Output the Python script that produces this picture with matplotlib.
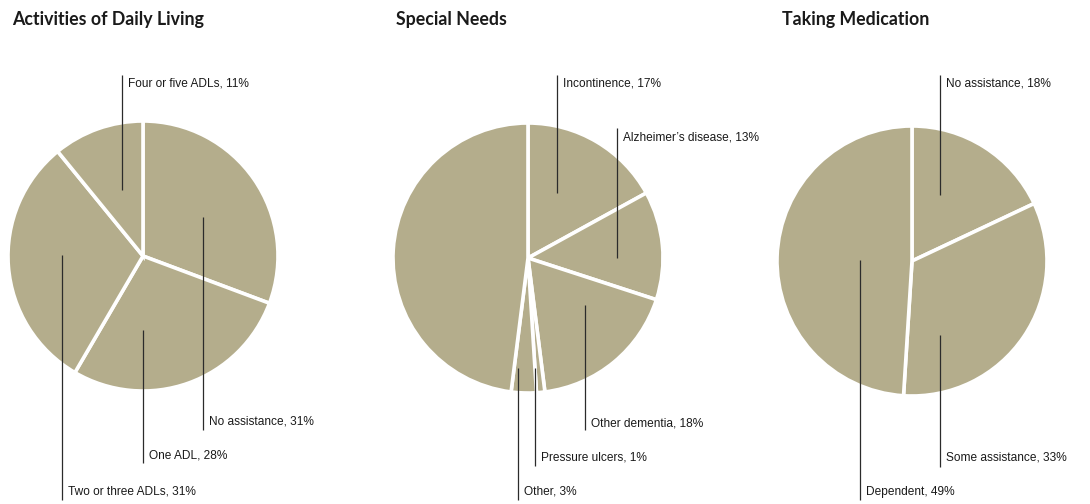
import matplotlib
matplotlib.use("Agg")
import matplotlib.pyplot as plt
from matplotlib import font_manager

# ---------------- data ----------------
adl_labels = ["No assistance", "One ADL", "Two or three ADLs", "Four or five ADLs"]
adl_values = [31, 28, 31, 11]

sn_labels = ["Incontinence", "Alzheimer\u2019s disease", "Other dementia",
             "Pressure ulcers", "Other", ""]
sn_values = [17, 13, 18, 1, 3, 48]

med_labels = ["No assistance", "Some assistance", "Dependent"]
med_values = [18, 33, 49]

titles = ["Activities of Daily Living", "Special Needs", "Taking Medication"]

# ---------------- layout (pixels, y from top) ----------------
W, H = 1090, 504
WEDGE = "#b4ad8c"
INK = "#2b2b2b"
R = 135

names = {f.name for f in font_manager.fontManager.ttflist}
label_family = [f for f in ["Liberation Sans Narrow", "Liberation Sans", "DejaVu Sans"] if f in names]
title_family = [f for f in ["Lato", "Open Sans", "DejaVu Sans"] if f in names]

pies = [
    dict(title=titles[0], title_x=12, center=(143, 256), labels=adl_labels, values=adl_values,
         # (line x, inner y, outer y, text y) for each labelled wedge
         leaders=[(203, 217, 430, 422), (143, 330, 463, 456), (62, 255, 500, 491), (122, 190, 75, 84)]),
    dict(title=titles[1], title_x=396, center=(528, 258), labels=sn_labels, values=sn_values,
         leaders=[(557, 193, 75, 84), (617, 258, 128, 137), (585, 305, 430, 423),
                  (535, 368, 466, 458), (518, 368, 500, 492), None]),
    dict(title=titles[2], title_x=782, center=(912, 261), labels=med_labels, values=med_values,
         leaders=[(940, 195, 75, 84), (940, 335, 467, 458), (860, 260, 500, 492)]),
]

fig = plt.figure(figsize=(W / 100, H / 100), dpi=100)
ax = fig.add_axes([0, 0, 1, 1])


def Y(py):
    return H - py


for p in pies:
    cx, cy = p["center"]
    ax.pie(p["values"], startangle=90, counterclock=False, colors=[WEDGE] * len(p["values"]),
           center=(cx, Y(cy)), radius=R, frame=True,
           wedgeprops=dict(edgecolor="white", linewidth=2.6, antialiased=True))
    ax.text(p["title_x"], Y(19), p["title"], fontsize=12.8, fontweight="bold",
            family=title_family, color="#1a1a1a", ha="left", va="center")
    for lab, val, ld in zip(p["labels"], p["values"], p["leaders"]):
        if ld is None or not lab:
            continue
        lx, yin, yout, ty = ld
        ax.plot([lx, lx], [Y(yin), Y(yout)], color=INK, lw=0.9, solid_capstyle="butt")
        ax.text(lx + 6, Y(ty), f"{lab}, {val}%", fontsize=8.6, family=label_family,
                color="#1a1a1a", ha="left", va="center")

ax.set_xlim(0, W)
ax.set_ylim(0, H)
ax.set_aspect("equal")
ax.axis("off")
fig.savefig("out.png", dpi=100, facecolor="white")
